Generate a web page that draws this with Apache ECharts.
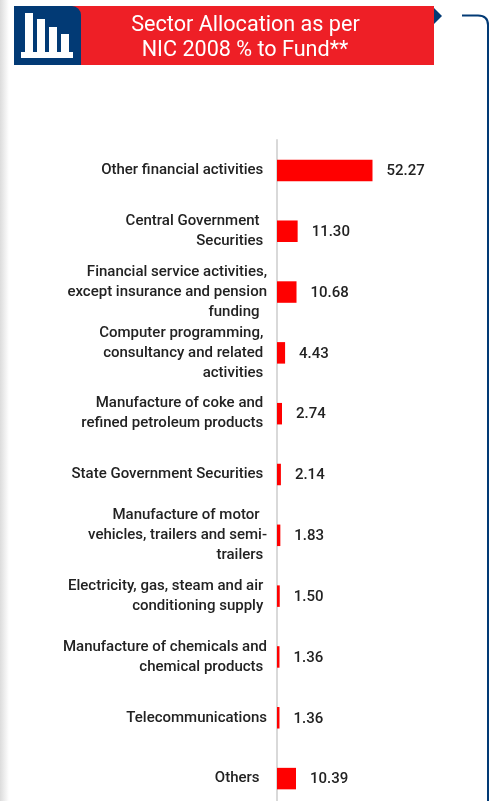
<!DOCTYPE html>
<html>
<head>
<meta charset="utf-8">
<style>html,body{margin:0;padding:0;background:#fff;overflow:hidden}#c{width:489px;height:801px}</style>
<script src="https://cdn.jsdelivr.net/npm/echarts@6/dist/echarts.min.js"></script>
</head>
<body>
<div id="c"></div>
<script>
const categories = [
  "Other financial activities ",
  "Central Government  \nSecurities ",
  "Financial service activities,\nexcept insurance and pension\nfunding  ",
  "Computer programming, \nconsultancy and related \nactivities ",
  "Manufacture of coke and \nrefined petroleum products ",
  "State Government Securities ",
  "Manufacture of motor  \nvehicles, trailers and semi-\ntrailers ",
  "Electricity, gas, steam and air \nconditioning supply ",
  "Manufacture of chemicals and\nchemical products ",
  "Telecommunications",
  "Others  "
];
const values = [52.27, 11.30, 10.68, 4.43, 2.74, 2.14, 1.83, 1.50, 1.36, 1.36, 10.39];
const titleLines = ["Sector Allocation as per", "NIC 2008 % to Fund**"];

const navy = "#023a75", red = "#ee1f26", font = "Roboto";
const chart = echarts.init(document.getElementById("c"), null, {renderer: "canvas"});
chart.setOption({
  animation: false,
  backgroundColor: "#fff",
  grid: {left: 277, top: 140, width: 182.7, height: 669, containLabel: false, outerBoundsMode: "none"},
  xAxis: {type: "value", min: 0, max: 100, show: false},
  yAxis: {
    type: "category", inverse: true, data: categories, offset: 1,
    axisLine: {show: true, lineStyle: {color: "#d9d9d9", width: 2}},
    axisTick: {show: false},
    splitLine: {show: false},
    axisLabel: {margin: 9, color: "#222", fontFamily: font, fontWeight: 500, fontSize: 15, lineHeight: 20, align: "right", interval: 0, padding: [4, 0, 0, 0]}
  },
  series: [{
    type: "bar", data: values, barWidth: 21.5,
    itemStyle: {color: "#ff0000"},
    label: {show: true, position: "right", distance: 14, offset: [0, 1], color: "#222", fontFamily: font, fontWeight: 500, fontSize: 15,
      formatter: p => p.value.toFixed(2)}
  }],
  graphic: {elements: [
    {type: "rect", silent: true, shape: {x: 0, y: 0, width: 9, height: 801},
      style: {fill: new echarts.graphic.LinearGradient(0, 0, 1, 0, [{offset: 0, color: "#dcdcdc"}, {offset: 1, color: "#ffffff"}])}},
    {type: "rect", silent: true, shape: {x: 14, y: 6, width: 420, height: 59}, style: {fill: red}},
    {type: "rect", silent: true, shape: {x: 14, y: 6, width: 67, height: 59, r: [0, 9, 0, 0]}, style: {fill: navy}},
    {type: "rect", silent: true, shape: {x: 25, y: 13, width: 8, height: 40}, style: {fill: "#fff"}},
    {type: "rect", silent: true, shape: {x: 37, y: 19, width: 8, height: 34}, style: {fill: "#fff"}},
    {type: "rect", silent: true, shape: {x: 49, y: 27, width: 8, height: 26}, style: {fill: "#fff"}},
    {type: "rect", silent: true, shape: {x: 61, y: 34, width: 8, height: 19}, style: {fill: "#fff"}},
    {type: "rect", silent: true, shape: {x: 21, y: 52, width: 52, height: 6}, style: {fill: "#fff"}},
    {type: "polygon", silent: true, shape: {points: [[434, 8], [442, 16], [434, 24]]}, style: {fill: navy}},
    {type: "line", silent: true, shape: {x1: 462, y1: 15.5, x2: 478, y2: 15.5}, style: {stroke: navy, lineWidth: 2}},
    {type: "bezierCurve", silent: true, shape: {x1: 478, y1: 15.5, cpx1: 488, cpy1: 15.5, x2: 488, y2: 25}, style: {fill: "none", stroke: navy, lineWidth: 2}},
    {type: "line", silent: true, shape: {x1: 488, y1: 25, x2: 488, y2: 801}, style: {stroke: navy, lineWidth: 2}},
    {type: "text", silent: true, style: {x: 245.5, y: 25.5, text: titleLines[0], fill: "#fff", font: "21.6px Roboto", align: "center", verticalAlign: "middle"}},
    {type: "text", silent: true, style: {x: 245, y: 50.5, text: titleLines[1], fill: "#fff", font: "21.6px Roboto", align: "center", verticalAlign: "middle"}}
  ]}
});
</script>
</body>
</html>
